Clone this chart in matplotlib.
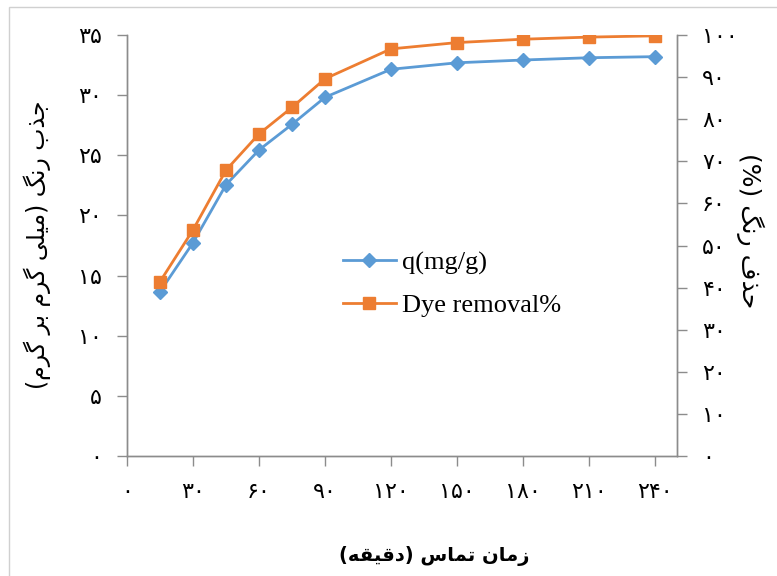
import matplotlib
matplotlib.use("Agg")
import matplotlib.pyplot as plt
from matplotlib.ticker import FixedLocator, FuncFormatter
from matplotlib.patches import Rectangle
from matplotlib.lines import Line2D

# ---------------- data ----------------
time_min = [15, 30, 45, 60, 75, 90, 120, 150, 180, 210, 240]
q_mg_g = [13.66, 17.73, 22.55, 25.44, 27.57, 29.82, 32.15, 32.69, 32.92, 33.11, 33.2]
dye_removal = [41.4, 53.7, 67.9, 76.5, 82.8, 89.6, 96.7, 98.2, 99.0, 99.5, 99.8]
x_ticks = [0, 30, 60, 90, 120, 150, 180, 210, 240]
y_left_ticks = [0, 5, 10, 15, 20, 25, 30, 35]
y_right_ticks = [0, 10, 20, 30, 40, 50, 60, 70, 80, 90, 100]
xlabel_text = "زمان تماس (دقیقه)"
ylabel_left_text = "جذب رنگ (میلی گرم بر گرم)"
ylabel_right_text = "حذف رنگ (%)"
legend_labels = ["q(mg/g)", "Dye removal%"]

# ---------------- minimal Persian shaping ----------------
FORMS = {  # iso, fin, ini, med
    'ا': ('\uFE8D', '\uFE8E', None, None),
    'ب': ('\uFE8F', '\uFE90', '\uFE91', '\uFE92'),
    'ت': ('\uFE95', '\uFE96', '\uFE97', '\uFE98'),
    'ج': ('\uFE9D', '\uFE9E', '\uFE9F', '\uFEA0'),
    'ح': ('\uFEA1', '\uFEA2', '\uFEA3', '\uFEA4'),
    'د': ('\uFEA9', '\uFEAA', None, None),
    'ذ': ('\uFEAB', '\uFEAC', None, None),
    'ر': ('\uFEAD', '\uFEAE', None, None),
    'ز': ('\uFEAF', '\uFEB0', None, None),
    'س': ('\uFEB1', '\uFEB2', '\uFEB3', '\uFEB4'),
    'ف': ('\uFED1', '\uFED2', '\uFED3', '\uFED4'),
    'ق': ('\uFED5', '\uFED6', '\uFED7', '\uFED8'),
    'ل': ('\uFEDD', '\uFEDE', '\uFEDF', '\uFEE0'),
    'م': ('\uFEE1', '\uFEE2', '\uFEE3', '\uFEE4'),
    'ن': ('\uFEE5', '\uFEE6', '\uFEE7', '\uFEE8'),
    'ه': ('\uFEE9', '\uFEEA', '\uFEEB', '\uFEEC'),
    'ی': ('\uFEEF', '\uFEF0', '\uFEF3', '\uFEF4'),
    'گ': ('\uFB92', '\uFB93', '\uFB94', '\uFB95'),
}


def dual(c):
    return c in FORMS and FORMS[c][2] is not None


def shape(s):
    out = []
    for i, c in enumerate(s):
        if c not in FORMS:
            out.append(c)
            continue
        prev_j = i > 0 and dual(s[i - 1])
        next_j = dual(c) and i + 1 < len(s) and s[i + 1] in FORMS
        iso, fin, ini, med = FORMS[c]
        if prev_j and next_j:
            out.append(med)
        elif prev_j:
            out.append(fin)
        elif next_j:
            out.append(ini)
        else:
            out.append(iso)
    vis = ''.join(reversed(out))
    return vis.translate(str.maketrans({'(': ')', ')': '('}))


FA_DIGITS = str.maketrans('0123456789', '۰۱۲۳۴۵۶۷۸۹')


def fa_num(v, pos=None):
    return str(int(round(v))).translate(FA_DIGITS)


# ---------------- figure ----------------
W, H = 777, 576
fig = plt.figure(figsize=(W / 100, H / 100), dpi=100)
fig.patch.set_facecolor('white')
fig.patches.append(Rectangle((9 / W, -0.1), 1.2, 1.1 - 7 / H, transform=fig.transFigure,
                             fill=False, edgecolor='#D0D0D0', linewidth=1.0))

L, R, T, B = 127, 677, 35, 456
ax = fig.add_axes([L / W, 1 - B / H, (R - L) / W, (B - T) / H])
ax2 = ax.twinx()

blue = '#5B9BD5'
orange = '#ED7D31'
axis_col = '#8C8C8C'

ax.plot(time_min, q_mg_g, color=blue, lw=2.0, marker='D', markersize=7.5,
        markeredgecolor=blue, zorder=3)
ax2.plot(time_min, dye_removal, color=orange, lw=2.0, marker='s', markersize=9,
         markeredgecolor=orange, zorder=3)

ax.set_xlim(0, 250)
ax.set_ylim(0, 35)
ax2.set_ylim(0, 100)

ax.xaxis.set_major_locator(FixedLocator(x_ticks))
ax.yaxis.set_major_locator(FixedLocator(y_left_ticks))
ax2.yaxis.set_major_locator(FixedLocator(y_right_ticks))
for a in (ax.xaxis, ax.yaxis, ax2.yaxis):
    a.set_major_formatter(FuncFormatter(fa_num))

for a in (ax, ax2):
    for s in a.spines.values():
        s.set_color(axis_col)
        s.set_linewidth(1.0)
    a.spines['top'].set_visible(False)

ax.tick_params(axis='both', direction='out', length=7, width=1, color=axis_col,
               labelsize=16, labelcolor='black')
ax.tick_params(axis='y', pad=11)
ax.tick_params(axis='x', pad=12)
ax2.tick_params(axis='y', direction='out', length=7, width=1, color=axis_col,
                labelsize=16, labelcolor='black', pad=11)

fa_font = ['DejaVu Sans']
fig.text(434 / W, 1 - 556 / H, shape(xlabel_text), ha='center', va='center',
         fontsize=14, fontweight='bold', family=fa_font)
fig.text(37 / W, 1 - 245 / H, shape(ylabel_left_text), ha='center', va='center',
         rotation=90, fontsize=17, family=fa_font)
fig.text(750 / W, 1 - 231 / H, shape(ylabel_right_text), ha='center', va='center',
         rotation=270, fontsize=18, family=fa_font)

handles = [Line2D([], [], color=blue, lw=2.0, marker='D', markersize=7.5),
           Line2D([], [], color=orange, lw=2.0, marker='s', markersize=9)]
fig.legend(handles, legend_labels, loc='center left',
           bbox_to_anchor=(343 / W, 1 - 284 / H), frameon=False,
           prop={'family': 'Liberation Serif', 'size': 19},
           handlelength=2.0, handletextpad=0.25, labelspacing=0.7,
           borderpad=0, borderaxespad=0)

fig.savefig('out.png', dpi=100, facecolor='white')
